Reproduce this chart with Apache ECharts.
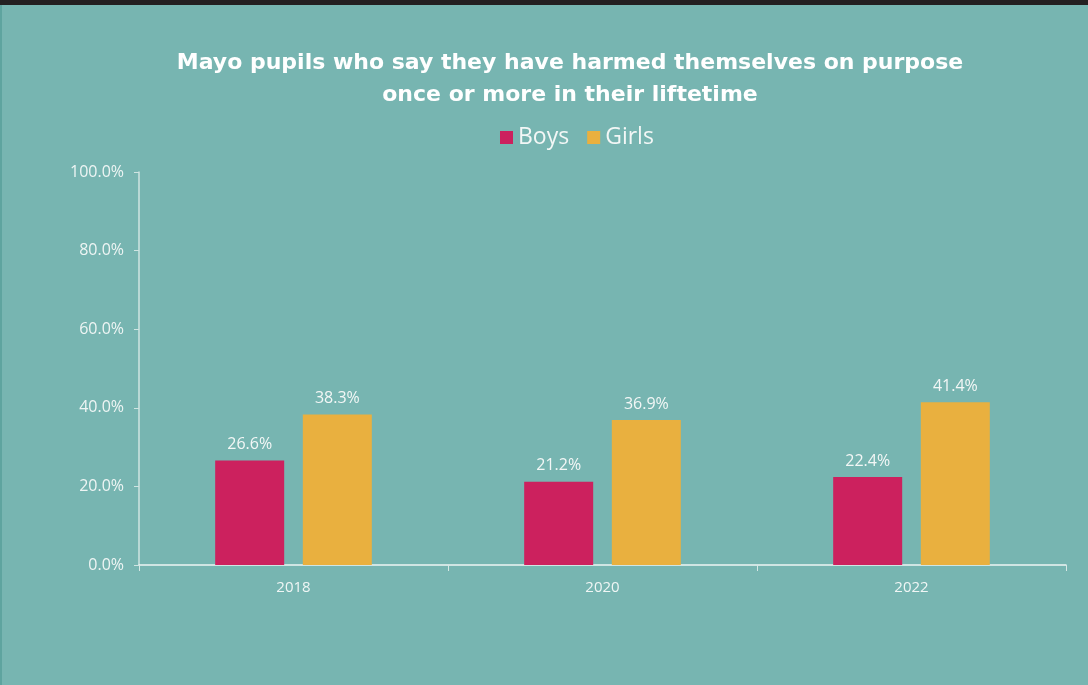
<!DOCTYPE html>
<html><head><meta charset="utf-8">
<script src="https://cdn.jsdelivr.net/npm/echarts@6/dist/echarts.min.js"></script>
<style>html,body{margin:0;padding:0;background:#77b5b1;}#c{width:1088px;height:685px;}</style>
</head><body><div id="c"></div>
<script>
const categories = ['2018', '2020', '2022'];
const boys = [26.6, 21.2, 22.4];
const girls = [38.3, 36.9, 41.4];
const yTicks = [0, 20, 40, 60, 80, 100];

const chart = echarts.init(document.getElementById('c'));
const font = '"Open Sans", sans-serif';
chart.setOption({
  backgroundColor: '#77b5b1',
  animation: false,
  graphic: [
    {type: 'rect', left: 0, top: 0, shape: {width: 1088, height: 5}, style: {fill: '#242021'}},
    {type: 'rect', left: 0, top: 5, shape: {width: 2, height: 680}, style: {fill: '#5ea49f'}}
  ],
  title: {
    text: 'Mayo pupils who say they have harmed themselves on purpose\nonce or more in their liftetime',
    left: 565, textAlign: 'center', top: 42,
    textStyle: {color: '#ffffff', fontFamily: '"DejaVu Sans", sans-serif', fontWeight: 'bold', fontSize: 22, lineHeight: 32}
  },
  legend: {
    data: ['Boys', 'Girls'], top: 121, left: 495,
    itemWidth: 13, itemHeight: 13, itemGap: 18, icon: 'rect',
    textStyle: {color: '#f3f7f6', fontFamily: font, fontSize: 23}
  },
  grid: {left: 139, right: 22, top: 172, bottom: 120},
  xAxis: {
    type: 'category', data: categories,
    axisLine: {lineStyle: {color: '#eef5f4', width: 1.5}},
    axisTick: {show: true, length: 6, lineStyle: {color: '#d6e8e6'}},
    axisLabel: {color: '#f0f6f5', fontFamily: font, fontSize: 15, margin: 15}
  },
  yAxis: {
    type: 'value', min: yTicks[0], max: yTicks[yTicks.length - 1], interval: 20,
    splitLine: {show: false},
    axisLine: {show: true, lineStyle: {color: '#cfe4e2', width: 1.5}},
    axisTick: {show: true, length: 5, lineStyle: {color: '#cfe4e2'}},
    axisLabel: {color: '#eef5f4', fontFamily: font, fontSize: 16, margin: 15,
      formatter: v => v.toFixed(1) + '%'}
  },
  series: [
    {name: 'Boys', type: 'bar', data: boys, barWidth: 69, barGap: '27%',
      itemStyle: {color: '#cc215e'},
      label: {show: true, position: 'top', distance: 8, color: '#f3f7f6', fontFamily: font, fontSize: 16,
        formatter: p => p.value.toFixed(1) + '%'}},
    {name: 'Girls', type: 'bar', data: girls, barWidth: 69,
      itemStyle: {color: '#e9b03f'},
      label: {show: true, position: 'top', distance: 8, color: '#f3f7f6', fontFamily: font, fontSize: 16,
        formatter: p => p.value.toFixed(1) + '%'}}
  ]
});
</script></body></html>
